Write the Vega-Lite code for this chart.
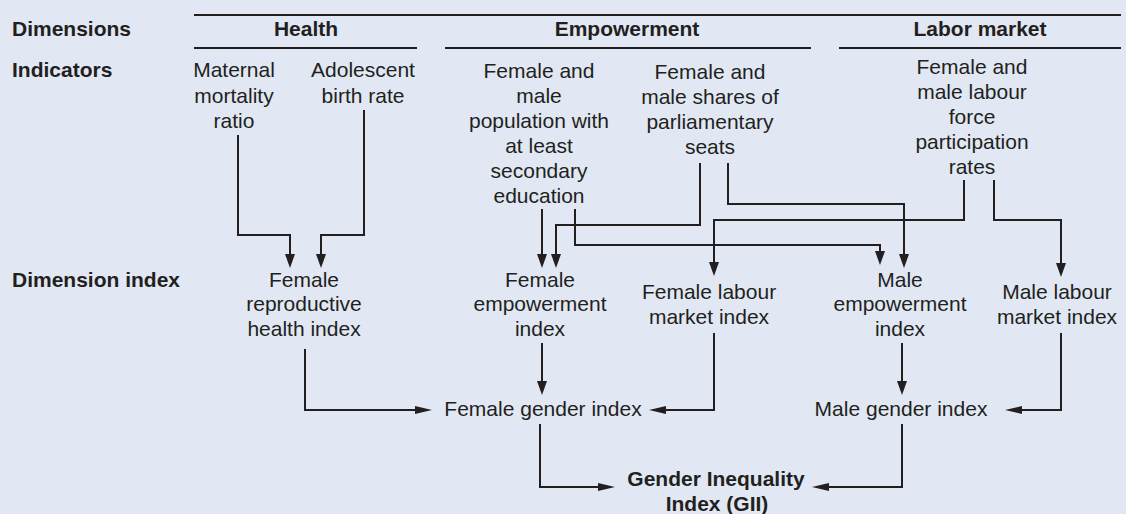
{
  "$schema": "https://vega.github.io/schema/vega-lite/v6.json",
  "width": 1126,
  "height": 514,
  "autosize": {"type": "none"},
  "padding": 0,
  "background": "#e1e8f4",
  "config": {"view": {"stroke": null}},
  "datasets": {
    "paths": [
      {"p": 1, "i": 1, "x": 194, "y": 15}, {"p": 1, "i": 2, "x": 1121, "y": 15},
      {"p": 2, "i": 1, "x": 194, "y": 48}, {"p": 2, "i": 2, "x": 417, "y": 48},
      {"p": 3, "i": 1, "x": 445, "y": 48}, {"p": 3, "i": 2, "x": 811, "y": 48},
      {"p": 4, "i": 1, "x": 839, "y": 48}, {"p": 4, "i": 2, "x": 1121, "y": 48},
      {"p": 5, "i": 1, "x": 238, "y": 135}, {"p": 5, "i": 2, "x": 238, "y": 235}, {"p": 5, "i": 3, "x": 290, "y": 235}, {"p": 5, "i": 4, "x": 290, "y": 256},
      {"p": 6, "i": 1, "x": 364, "y": 110}, {"p": 6, "i": 2, "x": 364, "y": 235}, {"p": 6, "i": 3, "x": 321, "y": 235}, {"p": 6, "i": 4, "x": 321, "y": 256},
      {"p": 7, "i": 1, "x": 542, "y": 209}, {"p": 7, "i": 2, "x": 542, "y": 256},
      {"p": 8, "i": 1, "x": 575, "y": 209}, {"p": 8, "i": 2, "x": 575, "y": 245}, {"p": 8, "i": 3, "x": 880, "y": 245}, {"p": 8, "i": 4, "x": 880, "y": 253},
      {"p": 9, "i": 1, "x": 700, "y": 163}, {"p": 9, "i": 2, "x": 700, "y": 225}, {"p": 9, "i": 3, "x": 556, "y": 225}, {"p": 9, "i": 4, "x": 556, "y": 256},
      {"p": 10, "i": 1, "x": 728, "y": 163}, {"p": 10, "i": 2, "x": 728, "y": 204}, {"p": 10, "i": 3, "x": 904, "y": 204}, {"p": 10, "i": 4, "x": 904, "y": 256},
      {"p": 11, "i": 1, "x": 964, "y": 180}, {"p": 11, "i": 2, "x": 964, "y": 220}, {"p": 11, "i": 3, "x": 714, "y": 220}, {"p": 11, "i": 4, "x": 714, "y": 264},
      {"p": 12, "i": 1, "x": 994, "y": 180}, {"p": 12, "i": 2, "x": 994, "y": 220}, {"p": 12, "i": 3, "x": 1061, "y": 220}, {"p": 12, "i": 4, "x": 1061, "y": 265},
      {"p": 13, "i": 1, "x": 305, "y": 349}, {"p": 13, "i": 2, "x": 305, "y": 410}, {"p": 13, "i": 3, "x": 418, "y": 410},
      {"p": 14, "i": 1, "x": 542, "y": 343}, {"p": 14, "i": 2, "x": 542, "y": 383},
      {"p": 15, "i": 1, "x": 714, "y": 333}, {"p": 15, "i": 2, "x": 714, "y": 410}, {"p": 15, "i": 3, "x": 663, "y": 410},
      {"p": 16, "i": 1, "x": 540, "y": 424}, {"p": 16, "i": 2, "x": 540, "y": 487}, {"p": 16, "i": 3, "x": 601, "y": 487},
      {"p": 17, "i": 1, "x": 902, "y": 343}, {"p": 17, "i": 2, "x": 902, "y": 383},
      {"p": 18, "i": 1, "x": 1061, "y": 333}, {"p": 18, "i": 2, "x": 1061, "y": 410}, {"p": 18, "i": 3, "x": 1019, "y": 410},
      {"p": 19, "i": 1, "x": 902, "y": 424}, {"p": 19, "i": 2, "x": 902, "y": 487}, {"p": 19, "i": 3, "x": 826, "y": 487}
    ],
    "arrows": [
      {"x": 290, "y": 268, "dir": "down"}, {"x": 321, "y": 268, "dir": "down"},
      {"x": 542, "y": 268, "dir": "down"}, {"x": 556, "y": 268, "dir": "down"},
      {"x": 714, "y": 276, "dir": "down"}, {"x": 880, "y": 265, "dir": "down"},
      {"x": 904, "y": 268, "dir": "down"}, {"x": 1061, "y": 277, "dir": "down"},
      {"x": 542, "y": 395, "dir": "down"}, {"x": 902, "y": 395, "dir": "down"},
      {"x": 432, "y": 410, "dir": "right"}, {"x": 615, "y": 487, "dir": "right"},
      {"x": 649, "y": 410, "dir": "left"}, {"x": 1005, "y": 410, "dir": "left"},
      {"x": 812, "y": 487, "dir": "left"}
    ],
    "labels": [
      {"t": "Dimensions", "x": 12, "y": 30, "w": "bold", "a": "left"},
      {"t": "Indicators", "x": 12, "y": 71, "w": "bold", "a": "left"},
      {"t": "Dimension index", "x": 12, "y": 281, "w": "bold", "a": "left"},
      {"t": "Health", "x": 306, "y": 30, "w": "bold", "a": "center"},
      {"t": "Empowerment", "x": 627, "y": 30, "w": "bold", "a": "center"},
      {"t": "Labor market", "x": 980, "y": 30, "w": "bold", "a": "center"},
      {"t": "Gender Inequality", "x": 716, "y": 480, "w": "bold", "a": "center"},
      {"t": "Index (GII)", "x": 717, "y": 505, "w": "bold", "a": "center"},
      {"t": "Maternal", "x": 234, "y": 71, "w": "normal", "a": "center"},
      {"t": "mortality", "x": 234, "y": 97, "w": "normal", "a": "center"},
      {"t": "ratio", "x": 234, "y": 122, "w": "normal", "a": "center"},
      {"t": "Adolescent", "x": 363, "y": 71, "w": "normal", "a": "center"},
      {"t": "birth rate", "x": 363, "y": 97, "w": "normal", "a": "center"},
      {"t": "Female and", "x": 539, "y": 72, "w": "normal", "a": "center"},
      {"t": "male", "x": 539, "y": 97, "w": "normal", "a": "center"},
      {"t": "population with", "x": 539, "y": 122, "w": "normal", "a": "center"},
      {"t": "at least", "x": 539, "y": 147, "w": "normal", "a": "center"},
      {"t": "secondary", "x": 539, "y": 172, "w": "normal", "a": "center"},
      {"t": "education", "x": 539, "y": 197, "w": "normal", "a": "center"},
      {"t": "Female and", "x": 710, "y": 73, "w": "normal", "a": "center"},
      {"t": "male shares of", "x": 710, "y": 98, "w": "normal", "a": "center"},
      {"t": "parliamentary", "x": 710, "y": 123, "w": "normal", "a": "center"},
      {"t": "seats", "x": 710, "y": 148, "w": "normal", "a": "center"},
      {"t": "Female and", "x": 972, "y": 68, "w": "normal", "a": "center"},
      {"t": "male labour", "x": 972, "y": 93, "w": "normal", "a": "center"},
      {"t": "force", "x": 972, "y": 118, "w": "normal", "a": "center"},
      {"t": "participation", "x": 972, "y": 143, "w": "normal", "a": "center"},
      {"t": "rates", "x": 972, "y": 168, "w": "normal", "a": "center"},
      {"t": "Female", "x": 304, "y": 281, "w": "normal", "a": "center"},
      {"t": "reproductive", "x": 304, "y": 305, "w": "normal", "a": "center"},
      {"t": "health index", "x": 304, "y": 330, "w": "normal", "a": "center"},
      {"t": "Female", "x": 540, "y": 281, "w": "normal", "a": "center"},
      {"t": "empowerment", "x": 540, "y": 305, "w": "normal", "a": "center"},
      {"t": "index", "x": 540, "y": 330, "w": "normal", "a": "center"},
      {"t": "Female labour", "x": 709, "y": 293, "w": "normal", "a": "center"},
      {"t": "market index", "x": 709, "y": 318, "w": "normal", "a": "center"},
      {"t": "Male", "x": 900, "y": 281, "w": "normal", "a": "center"},
      {"t": "empowerment", "x": 900, "y": 305, "w": "normal", "a": "center"},
      {"t": "index", "x": 900, "y": 330, "w": "normal", "a": "center"},
      {"t": "Male labour", "x": 1057, "y": 293, "w": "normal", "a": "center"},
      {"t": "market index", "x": 1057, "y": 318, "w": "normal", "a": "center"},
      {"t": "Female gender index", "x": 543, "y": 410, "w": "normal", "a": "center"},
      {"t": "Male gender index", "x": 901, "y": 410, "w": "normal", "a": "center"}
    ]
  },
  "encoding": {
    "x": {"field": "x", "type": "quantitative", "scale": {"domain": [0, 1126], "nice": false, "zero": false}, "axis": null},
    "y": {"field": "y", "type": "quantitative", "scale": {"domain": [0, 514], "nice": false, "zero": false, "reverse": true}, "axis": null}
  },
  "layer": [
    {
      "data": {"name": "paths"},
      "mark": {"type": "line", "stroke": "#231f20", "strokeWidth": 2, "strokeJoin": "miter", "strokeCap": "butt"},
      "encoding": {
        "detail": {"field": "p", "type": "nominal"},
        "order": {"field": "i", "type": "quantitative"}
      }
    },
    {
      "data": {"name": "arrows"},
      "mark": {"type": "point", "filled": true, "fill": "#231f20", "opacity": 1, "strokeWidth": 0, "size": 4},
      "encoding": {
        "shape": {"field": "dir", "type": "nominal", "legend": null,
          "scale": {"domain": ["down", "right", "left"],
            "range": ["M-5,-14L5,-14L0,0Z", "M-17,-4L-17,4L0,0Z", "M17,-4L17,4L0,0Z"]}}
      }
    },
    {
      "data": {"name": "labels"},
      "transform": [{"filter": "datum.w === 'normal' && datum.a === 'center'"}],
      "mark": {"type": "text", "font": "Liberation Sans", "fontSize": 21, "fill": "#231f20", "align": "center", "baseline": "middle"},
      "encoding": {"text": {"field": "t", "type": "nominal"}}
    },
    {
      "data": {"name": "labels"},
      "transform": [{"filter": "datum.w === 'bold' && datum.a === 'center'"}],
      "mark": {"type": "text", "font": "Liberation Sans", "fontSize": 21, "fontWeight": "bold", "fill": "#231f20", "align": "center", "baseline": "middle"},
      "encoding": {"text": {"field": "t", "type": "nominal"}}
    },
    {
      "data": {"name": "labels"},
      "transform": [{"filter": "datum.w === 'bold' && datum.a === 'left'"}],
      "mark": {"type": "text", "font": "Liberation Sans", "fontSize": 21, "fontWeight": "bold", "fill": "#231f20", "align": "left", "baseline": "middle"},
      "encoding": {"text": {"field": "t", "type": "nominal"}}
    }
  ]
}
